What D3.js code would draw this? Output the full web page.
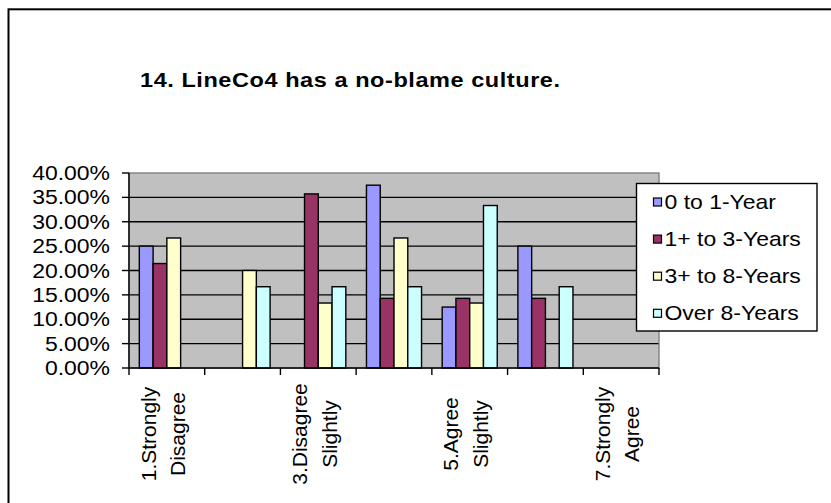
<!DOCTYPE html>
<html>
<head>
<meta charset="utf-8">
<script src="https://cdn.jsdelivr.net/npm/d3@7"></script>
<style>
  html, body { margin: 0; padding: 0; background: #fff; }
  svg { display: block; }
  text { font-family: "Liberation Sans", Arial, sans-serif; fill: #000; }
</style>
</head>
<body>
<svg id="chart" width="831" height="503"></svg>
<script>
// Survey question 14: response share by length of service
const title = "14. LineCo4 has a no-blame culture.";
const categories = [
  "1.Strongly Disagree", "2.Disagree", "3.Disagree Slightly", "4.Neutral",
  "5.Agree Slightly", "6.Agree", "7.Strongly Agree"
];
// only every other category gets a label on the axis
const labelledCategories = ["1.Strongly Disagree", "3.Disagree Slightly", "5.Agree Slightly", "7.Strongly Agree"];
const seriesNames = ["0 to 1-Year", "1+ to 3-Years", "3+ to 8-Years", "Over 8-Years"];
const seriesColors = ["#9999FF", "#993366", "#FFFFCC", "#CCFFFF"];
const values0to1 = [0.25, 0, 0, 0.375, 0.125, 0.25, 0];
const values1to3 = [0.2143, 0, 0.3571, 0.1429, 0.1429, 0.1429, 0];
const values3to8 = [0.2667, 0.2, 0.1333, 0.2667, 0.1333, 0, 0];
const valuesOver8 = [0, 0.1667, 0.1667, 0.1667, 0.3333, 0.1667, 0];
const yTicks = [0, 0.05, 0.10, 0.15, 0.20, 0.25, 0.30, 0.35, 0.40];

const seriesValues = [values0to1, values1to3, values3to8, valuesOver8];

const svg = d3.select("#chart");
const plot = { left: 129, right: 659, top: 173, bottom: 368 };
const stretch = 1.12; // horizontal text widening

// outer chart frame
svg.append("rect")
  .attr("x", 8.5).attr("y", 9.3).attr("width", 900).attr("height", 700)
  .attr("fill", "#fff").attr("stroke", "#000").attr("stroke-width", 2);

// title
svg.append("text")
  .attr("transform", `translate(140,86.5) scale(${stretch},1)`)
  .style("font-size", "21px").style("font-weight", "bold")
  .style("letter-spacing", "0.5px")
  .text(title);

const x0 = d3.scaleBand().domain(categories).range([plot.left, plot.right]).padding(0);
const x1 = d3.scaleBand().domain(seriesNames).range([0, x0.bandwidth()])
  .paddingInner(0).paddingOuter(0.75);
const y = d3.scaleLinear().domain([0, 0.4]).range([plot.bottom, plot.top]);

// plot area
svg.append("rect")
  .attr("x", plot.left).attr("y", plot.top)
  .attr("width", plot.right - plot.left).attr("height", plot.bottom - plot.top)
  .attr("fill", "#C0C0C0");

// gridlines
svg.append("g").selectAll("line")
  .data(yTicks.filter(t => t > 0 && t < 0.4))
  .join("line")
  .attr("x1", plot.left).attr("x2", plot.right)
  .attr("y1", d => y(d)).attr("y2", d => y(d))
  .attr("stroke", "#000").attr("stroke-width", 1.4);

// plot border
svg.append("rect")
  .attr("x", plot.left).attr("y", plot.top)
  .attr("width", plot.right - plot.left).attr("height", plot.bottom - plot.top)
  .attr("fill", "none").attr("stroke", "#808080").attr("stroke-width", 1.4);

// bars
const barData = [];
seriesNames.forEach((s, si) => {
  categories.forEach((c, ci) => {
    const v = seriesValues[si][ci];
    if (v > 0) barData.push({ s, si, c, v });
  });
});
svg.append("g").selectAll("rect")
  .data(barData)
  .join("rect")
  .attr("x", d => x0(d.c) + x1(d.s))
  .attr("y", d => y(d.v))
  .attr("width", x1.bandwidth())
  .attr("height", d => y(0) - y(d.v))
  .attr("fill", d => seriesColors[d.si])
  .attr("stroke", "#000").attr("stroke-width", 1.4);

// y axis
const yAxis = svg.append("g");
yAxis.append("line")
  .attr("x1", plot.left).attr("x2", plot.left)
  .attr("y1", plot.top).attr("y2", plot.bottom)
  .attr("stroke", "#000").attr("stroke-width", 1.4);
const yt = yAxis.selectAll("g.tick").data(yTicks).join("g").attr("class", "tick");
yt.append("line")
  .attr("x1", plot.left - 7).attr("x2", plot.left)
  .attr("y1", d => y(d)).attr("y2", d => y(d))
  .attr("stroke", "#000").attr("stroke-width", 1.4);
yt.append("text")
  .attr("transform", d => `translate(110,${y(d)}) scale(${stretch},1)`)
  .attr("text-anchor", "end").attr("dominant-baseline", "central")
  .style("font-size", "20.5px")
  .text(d => d3.format(".2%")(d));

// x axis
const xAxis = svg.append("g");
xAxis.append("line")
  .attr("x1", plot.left).attr("x2", plot.right)
  .attr("y1", plot.bottom).attr("y2", plot.bottom)
  .attr("stroke", "#000").attr("stroke-width", 1.4);
const boundaries = categories.map(c => x0(c)).concat([plot.right]);
xAxis.selectAll("line.tick").data(boundaries).join("line")
  .attr("class", "tick")
  .attr("x1", d => d).attr("x2", d => d)
  .attr("y1", plot.bottom).attr("y2", plot.bottom + 7)
  .attr("stroke", "#000").attr("stroke-width", 1.4);

const xl = xAxis.selectAll("g.label").data(labelledCategories).join("g")
  .attr("class", "label")
  .attr("transform", d => `translate(${x0(d) + x0.bandwidth() / 2 - 4},434) rotate(-90)`);
xl.each(function (d) {
  const i = d.indexOf(" ");
  const lines = [d.slice(0, i), d.slice(i + 1)];
  d3.select(this).selectAll("text").data(lines).join("text")
    .attr("x", 0).attr("y", (l, k) => (k - 0.5) * 29.5)
    .attr("text-anchor", "middle").attr("dominant-baseline", "central")
    .style("font-size", "21px")
    .text(l => l);
});

// legend
const legend = svg.append("g");
legend.append("rect")
  .attr("x", 636.5).attr("y", 183.5).attr("width", 180.5).attr("height", 147.5)
  .attr("fill", "#fff").attr("stroke", "#000").attr("stroke-width", 1.4);
const li = legend.selectAll("g.item").data(seriesNames).join("g")
  .attr("class", "item")
  .attr("transform", (d, i) => `translate(0,${202 + i * 37.1})`);
li.append("rect")
  .attr("x", 653.5).attr("y", -4).attr("width", 8).attr("height", 8)
  .attr("fill", (d, i) => seriesColors[i]).attr("stroke", "#000").attr("stroke-width", 1.2);
li.append("text")
  .attr("transform", `translate(664.5,0) scale(${stretch},1)`)
  .attr("dominant-baseline", "central")
  .style("font-size", "20.5px")
  .text(d => d);
</script>
</body>
</html>
